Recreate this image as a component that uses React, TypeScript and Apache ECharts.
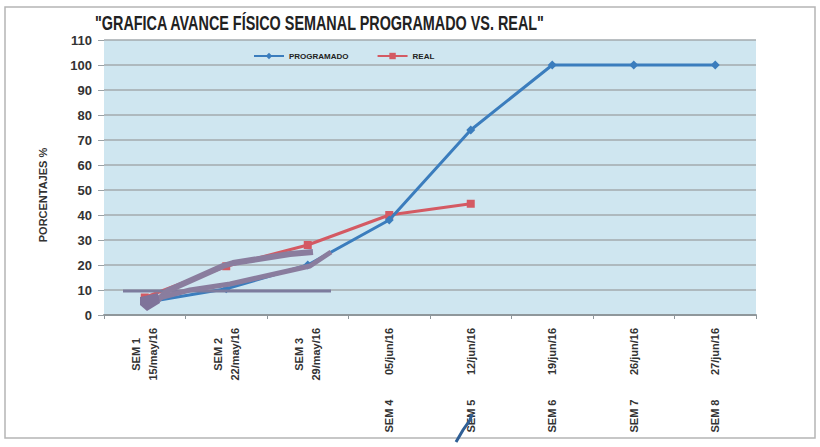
import React, { useEffect, useRef } from "react";
import * as echarts from "echarts";

const weeks = ["SEM 1", "SEM 2", "SEM 3", "SEM 4", "SEM 5", "SEM 6", "SEM 7", "SEM 8"];
const dates = ["15/may/16", "22/may/16", "29/may/16", "05/jun/16", "12/jun/16", "19/jun/16", "26/jun/16", "27/jun/16"];
const programado = [5, 10.5, 20, 38, 74, 100, 100, 100];
const real = [7, 19.5, 28, 40, 44.5, null, null, null];
const yMin = 0;
const yMax = 110;
const yStep = 10;
const titleText = "\"GRAFICA AVANCE FÍSICO SEMANAL PROGRAMADO VS. REAL\"";
const yName = "PORCENTAJES %";

export default function App() {
  const ref = useRef<HTMLDivElement>(null);
  useEffect(() => {
    if (!ref.current) return;
    const chart = echarts.init(ref.current, null, { renderer: "svg" });
    const font = "'Liberation Sans', 'DejaVu Sans', sans-serif";
    const purple = "#8a7d9e";
    chart.setOption({
      animation: false,
      backgroundColor: "#ffffff",
      legend: {
        top: 47,
        left: 248,
        itemWidth: 30,
        itemHeight: 8,
        itemGap: 28,
        textStyle: { fontFamily: font, fontWeight: "bold", fontSize: 8, color: "#222" },
        data: ["PROGRAMADO", "REAL"],
      },
      grid: {
        left: 104,
        right: 64,
        top: 40,
        bottom: 132,
        show: true,
        backgroundColor: "#cfe6f0",
        borderWidth: 0,
        containLabel: false,
        outerBoundsMode: "none",
      },
      xAxis: {
        type: "category",
        data: weeks,
        boundaryGap: true,
        axisLine: { lineStyle: { color: "#8f979b", width: 2 } },
        axisTick: { show: true, length: 4, lineStyle: { color: "#8f979b" } },
        axisLabel: {
          interval: 0,
          rotate: 90,
          margin: 13,
          color: "#333",
          fontFamily: font,
          fontWeight: "bold",
          fontSize: 11,
          lineHeight: 17,
          hideOverlap: false,
          formatter: (v: string, i: number) =>
            i < 3
              ? `{c|${v}}\n{c|${dates[i]}}`
              : `{c|${v}        ${dates[i]}}`,
          rich: {
            c: { fontFamily: font, fontWeight: "bold", fontSize: 11, color: "#333", align: "center" },
          },
        },
      },
      yAxis: {
        type: "value",
        min: yMin,
        max: yMax,
        interval: yStep,
        axisLine: { show: false },
        axisTick: { show: true, length: 6, lineStyle: { color: "#9aa1a5" } },
        axisLabel: { color: "#333", fontFamily: font, fontWeight: "bold", fontSize: 13, margin: 12 },
        splitLine: { lineStyle: { color: "#a3aaae", width: 1.5 } },
      },
      series: [
        {
          name: "PROGRAMADO",
          type: "line",
          data: programado,
          symbol: "diamond",
          symbolSize: 9,
          itemStyle: { color: "#3b7dbd" },
          lineStyle: { color: "#3b7dbd", width: 3 },
          z: 3,
        },
        {
          name: "REAL",
          type: "line",
          data: real,
          symbol: "rect",
          symbolSize: 8,
          itemStyle: { color: "#d45a63" },
          lineStyle: { color: "#d45a63", width: 3 },
          z: 2,
        },
      ],
      graphic: [
        {
          type: "text",
          x: 95,
          y: 13,
          scaleX: 0.72,
          style: {
            text: titleText,
            fontFamily: font,
            fontWeight: "bold",
            fontSize: 20,
            fill: "#222",
          },
          z: 10,
        },
        {
          type: "text",
          x: 43,
          y: 195,
          rotation: Math.PI / 2,
          style: {
            text: yName,
            fontFamily: font,
            fontWeight: "bold",
            fontSize: 11,
            fill: "#333",
            align: "center",
            verticalAlign: "middle",
          },
          z: 10,
        },
        {
          type: "rect",
          shape: { x: 5, y: 7, width: 810, height: 431 },
          style: { fill: "none", stroke: "#b5b5b5", lineWidth: 1.5 },
          z: 10,
        },
        {
          type: "line",
          shape: { x1: 123, y1: 291, x2: 331, y2: 291 },
          style: { stroke: "#7d7c9e", lineWidth: 3 },
          z: 20,
        },
        {
          type: "polyline",
          shape: {
            points: [
              [158, 300], [167, 291], [223, 266], [233, 263], [290, 254], [313, 252],
            ],
          },
          style: { stroke: purple, lineWidth: 6, fill: "none", lineJoin: "round" },
          z: 20,
        },
        {
          type: "polyline",
          shape: {
            points: [
              [331, 252], [310, 266], [230, 284], [190, 290], [155, 299],
            ],
          },
          style: { stroke: purple, lineWidth: 5, fill: "none", lineJoin: "round" },
          z: 20,
        },
        {
          type: "polygon",
          shape: { points: [[140, 297], [158, 293], [160, 303], [147, 311], [140, 305]] },
          style: { fill: "#7f739a" },
          z: 20,
        },
        {
          type: "polyline",
          shape: { points: [[456, 442], [463, 430], [470, 420], [472, 414]] },
          style: { stroke: "#2f5f95", lineWidth: 3, fill: "none" },
          z: 20,
        },
      ],
    });
    return () => chart.dispose();
  }, []);
  return <div ref={ref} style={{ width: 820, height: 447, position: "absolute", left: 0, top: 0 }} />;
}
